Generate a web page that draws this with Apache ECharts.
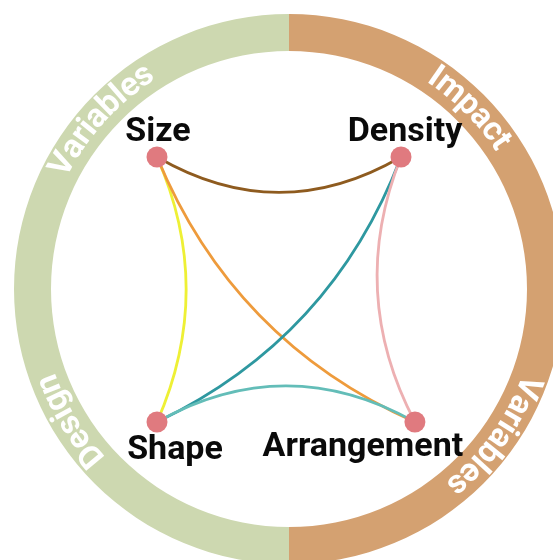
<!DOCTYPE html>
<html>
<head>
<meta charset="utf-8">
<script src="https://cdn.jsdelivr.net/npm/echarts@6/dist/echarts.min.js"></script>
<style>html,body{margin:0;padding:0;background:#fff}#c{width:553px;height:560px}</style>
</head>
<body>
<div id="c"></div>
<script>
// ---- data ----
const categories = ['Size', 'Density', 'Shape', 'Arrangement'];
const nodeX = [0, 1, 0, 1.057];
const nodeY = [1, 1, 0, 0];
const linkSource = ['Size', 'Size', 'Size', 'Density', 'Density', 'Shape'];
const linkTarget = ['Density', 'Shape', 'Arrangement', 'Shape', 'Arrangement', 'Arrangement'];
const linkCurveness = [-0.29, 0.22, -0.2, 0.2, -0.23, 0.28];
const linkColors = ['#8E5B1F', '#EEF035', '#EE9B3C', '#2E98A0', '#EDB0B2', '#63BDB8'];
const ringGroups = ['Impact Variables', 'Design Variables'];
const ringValues = [1, 1];
const ringColors = ['#D4A171', '#CDD8B0'];
const ringLabels = ['Variables', 'Impact', 'Design', 'Variables'];
const ringLabelAngles = [138, 45, 211, -35.5];

// ---- layout ----
const CX = 289, CY = 289, R_IN = 238, R_OUT = 275, R_TXT = 257;
const RING_FONT = 'bold 33px Roboto';
const labelOffsets = [[1, 3], [4, 3], [18, 1], [-52, -2]];
const labelPos = ['top', 'top', 'bottom', 'bottom'];

const chart = echarts.init(document.getElementById('c'), null, {renderer: 'canvas'});

const ctx = document.createElement('canvas').getContext('2d');
ctx.font = RING_FONT;
const graphics = [];
ringLabels.forEach(function (txt, k) {
  const chars = txt.split('');
  const widths = chars.map(function (ch) { return ctx.measureText(ch).width; });
  const total = widths.reduce(function (a, b) { return a + b; }, 0);
  const c = ringLabelAngles[k] * Math.PI / 180;
  let start = c + total / (2 * R_TXT);
  let cum = 0;
  chars.forEach(function (ch, i) {
    const th = start - (cum + widths[i] / 2) / R_TXT;
    cum += widths[i];
    graphics.push({
      type: 'text',
      x: CX + R_TXT * Math.cos(th),
      y: CY - R_TXT * Math.sin(th),
      rotation: th - Math.PI / 2,
      silent: true,
      z: 10,
      style: {text: ch, font: RING_FONT, fill: '#ffffff', align: 'center', verticalAlign: 'middle'}
    });
  });
});

const nodes = categories.map(function (name, i) {
  return {
    name: name,
    value: [nodeX[i], nodeY[i]],
    label: {position: labelPos[i], offset: labelOffsets[i]}
  };
});
const links = linkSource.map(function (s, i) {
  return {source: s, target: linkTarget[i], lineStyle: {color: linkColors[i], curveness: linkCurveness[i]}};
});

chart.setOption({
  backgroundColor: '#ffffff',
  animation: false,
  grid: {left: 157, right: 152, top: 157, bottom: 138},
  xAxis: {type: 'value', min: 0, max: 1, show: false},
  yAxis: {type: 'value', min: 0, max: 1, show: false},
  graphic: graphics,
  series: [
    {
      type: 'pie',
      center: [CX, CY],
      radius: [R_IN, R_OUT],
      startAngle: 90,
      clockwise: true,
      silent: true,
      label: {show: false},
      labelLine: {show: false},
      itemStyle: {borderWidth: 0},
      data: ringGroups.map(function (g, i) {
        return {name: g, value: ringValues[i], itemStyle: {color: ringColors[i]}};
      })
    },
    {
      type: 'graph',
      coordinateSystem: 'cartesian2d',
      symbol: 'circle',
      symbolSize: 21,
      itemStyle: {color: '#E07A7F'},
      label: {show: true, fontFamily: 'Roboto', fontWeight: 'bold', fontSize: 34, color: '#0a0a0a', distance: 0},
      lineStyle: {width: 2.8, opacity: 1},
      edgeSymbol: ['none', 'none'],
      data: nodes,
      links: links,
      z: 5
    }
  ]
});
</script>
</body>
</html>
